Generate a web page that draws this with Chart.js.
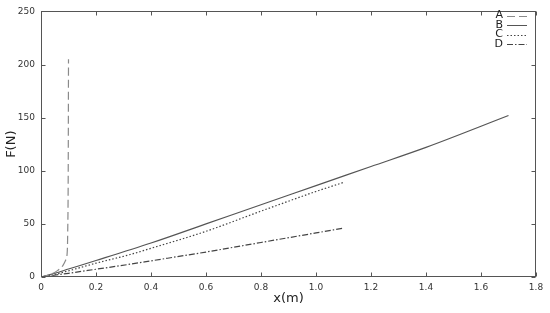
<!DOCTYPE html>
<html>
<head>
<meta charset="utf-8">
<script src="https://cdn.jsdelivr.net/npm/chart.js@4"></script>
<style>
  body { margin: 0; background: #fff; }
  #wrap { width: 550px; height: 313px; }
</style>
</head>
<body>
<div id="wrap"><canvas id="myChart"></canvas></div>
<script>
// values
const xA = [0, 0.03, 0.06, 0.08, 0.09, 0.095, 0.097, 0.099, 0.1]
const yA = [0, 2, 6, 11, 16, 22, 40, 100, 205]

const xB = [0, 0.05, 0.1, 0.2, 0.4, 0.6, 0.8, 1.0, 1.2, 1.4, 1.7]
const yB = [0, 3.5, 7.5, 15.5, 32, 50, 68, 86, 104, 122, 152]

const xC = [0, 0.05, 0.1, 0.2, 0.325, 0.4, 0.6, 0.8, 1.0, 1.1]
const yC = [0, 2.5, 5.8, 13, 21.2, 27, 43, 62, 80.5, 89]

const xD = [0, 0.1, 0.2, 0.325, 0.4, 0.6, 0.8, 1.0, 1.1]
const yD = [0, 3.5, 7.3, 12.1, 15.2, 23.5, 32.5, 41.5, 46]

const legendNames = ['A', 'B', 'C', 'D']
const lineColors = ['#8a8a8a', '#555555', '#444444', '#444444']
const lineDashes = [[8, 4], [], [1.5, 2], [6, 2, 1.5, 2]]

const pts = (xs, ys) => xs.map((x, i) => ({ x: x, y: ys[i] }))
const series = [pts(xA, yA), pts(xB, yB), pts(xC, yC), pts(xD, yD)]

// box around the plot, inward tick marks, and the legend with the sample to the right
const frame = {
    id: 'frame',
    afterDraw(chart) {
        const { ctx, chartArea: a, scales } = chart
        const L = Math.round(a.left) + 0.5, R = Math.round(a.right) - 0.5
        const T = Math.round(a.top) + 0.5, B = Math.round(a.bottom) - 0.5
        ctx.save()
        ctx.strokeStyle = '#555'
        ctx.lineWidth = 1
        ctx.strokeRect(L, T, R - L, B - T)
        ctx.beginPath()
        scales.x.ticks.forEach(t => {
            const px = Math.round(scales.x.getPixelForValue(t.value)) + 0.5
            ctx.moveTo(px, B); ctx.lineTo(px, B - 4)
            ctx.moveTo(px, T); ctx.lineTo(px, T + 4)
        })
        scales.y.ticks.forEach(t => {
            const py = Math.round(scales.y.getPixelForValue(t.value)) + 0.5
            ctx.moveTo(L, py); ctx.lineTo(L + 4, py)
            ctx.moveTo(R, py); ctx.lineTo(R - 4, py)
        })
        ctx.stroke()

        ctx.font = '11px "DejaVu Sans"'
        ctx.textAlign = 'right'
        ctx.textBaseline = 'middle'
        legendNames.forEach((name, i) => {
            const y = 15.5 + i * 9.5
            ctx.fillStyle = '#222'
            ctx.fillText(name, 503, y)
            ctx.beginPath()
            ctx.strokeStyle = lineColors[i]
            ctx.setLineDash(lineDashes[i])
            ctx.moveTo(507, Math.round(y) + 0.5); ctx.lineTo(527, Math.round(y) + 0.5)
            ctx.stroke()
        })
        ctx.restore()
    }
}

new Chart('myChart', {
    type: 'scatter',
    data: {
        datasets: series.map((d, i) => ({
            label: legendNames[i],
            data: d,
            showLine: true,
            borderColor: lineColors[i],
            borderWidth: 1.2,
            borderDash: lineDashes[i],
            pointRadius: 0,
            cubicInterpolationMode: 'monotone',
        })),
    },
    options: {
        responsive: true,
        maintainAspectRatio: false,
        animation: false,
        layout: { padding: { left: 0, right: 14, top: 9, bottom: 0 } },
        plugins: {
            legend: { display: false },
            tooltip: { enabled: false },
        },
        scales: {
            x: {
                type: 'linear',
                min: 0,
                max: 1.8,
                ticks: { stepSize: 0.2, color: '#333', font: { family: 'DejaVu Sans', size: 9 }, padding: 5, maxRotation: 0 },
                grid: { display: false, drawTicks: false },
                border: { display: false },
                title: { display: true, text: 'x(m)', color: '#222', font: { family: 'DejaVu Sans', size: 13 }, padding: { top: 1, bottom: 7 } },
                afterFit(s) { s.height = 36 },
            },
            y: {
                min: 0,
                max: 250,
                ticks: { stepSize: 50, color: '#333', font: { family: 'DejaVu Sans', size: 9 }, padding: 6 },
                grid: { display: false, drawTicks: false },
                border: { display: false },
                title: { display: true, text: 'F(N)', color: '#222', font: { family: 'DejaVu Sans', size: 13 }, padding: { top: 4, bottom: 0 } },
                afterFit(s) { s.width = 41 },
            },
        },
    },
    plugins: [frame],
});
</script>
</body>
</html>
